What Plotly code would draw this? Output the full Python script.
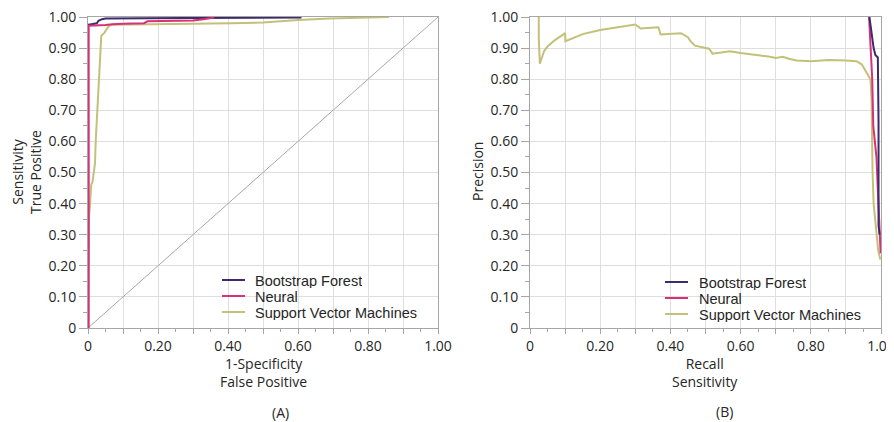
import plotly.graph_objects as go

# ---------------- data ----------------
# ROC curves (panel A)
roc_bf_fpr = [0, 0, 0.01, 0.025, 0.03, 0.04, 0.05, 0.14, 0.3, 0.61]
roc_bf_tpr = [0, 0.975, 0.977, 0.98, 0.988, 0.993, 0.995, 0.996, 0.997, 0.998]

roc_nn_fpr = [0.002, 0.002, 0.05, 0.07, 0.1, 0.16, 0.17, 0.3, 0.33, 0.36]
roc_nn_tpr = [0, 0.972, 0.974, 0.977, 0.978, 0.98, 0.986, 0.989, 0.993, 0.998]

roc_svm_fpr = [0, 0.003, 0.006, 0.009, 0.013, 0.02, 0.022, 0.027, 0.032, 0.038, 0.046,
               0.052, 0.06, 0.07, 0.3, 0.41, 0.5, 0.53, 0.6, 0.69, 0.8, 0.86]
roc_svm_tpr = [0, 0.36, 0.40, 0.46, 0.47, 0.53, 0.60, 0.70, 0.82, 0.94, 0.948,
               0.96, 0.972, 0.975, 0.977, 0.98, 0.982, 0.985, 0.99, 0.995, 0.998, 1.0]

diag_x = [0, 1]
diag_y = [0, 1]

# Precision-recall curves (panel B)
pr_bf_recall = [0.967, 0.975, 0.979, 0.984, 0.991, 0.993, 0.993, 0.996]
pr_bf_prec = [1.0, 0.93, 0.90, 0.878, 0.87, 0.66, 0.33, 0.30]

pr_nn_recall = [0.966, 0.975, 0.978, 0.981, 0.984, 0.987, 0.99, 0.993, 0.996, 0.999]
pr_nn_prec = [1.0, 0.8, 0.65, 0.62, 0.6, 0.55, 0.47, 0.38, 0.3, 0.24]

pr_svm_recall = [0.025, 0.025, 0.028, 0.04, 0.05, 0.07, 0.09, 0.1, 0.101, 0.15, 0.2, 0.25,
                 0.3, 0.315, 0.366, 0.372, 0.43, 0.45, 0.456, 0.47, 0.49, 0.51, 0.52, 0.55,
                 0.57, 0.6, 0.65, 0.68, 0.7, 0.72, 0.74, 0.76, 0.8, 0.85, 0.9, 0.93, 0.945,
                 0.955, 0.965, 0.97, 0.973, 0.974, 0.976, 0.979, 0.984, 0.987, 0.992, 0.998]
pr_svm_prec = [1.0, 0.93, 0.85, 0.89, 0.905, 0.925, 0.94, 0.948, 0.922, 0.945, 0.958, 0.967,
               0.976, 0.963, 0.967, 0.944, 0.948, 0.935, 0.924, 0.908, 0.904, 0.898, 0.882, 0.886,
               0.89, 0.884, 0.878, 0.873, 0.868, 0.872, 0.865, 0.86, 0.858, 0.862, 0.86, 0.858, 0.848,
               0.828, 0.81, 0.8, 0.74, 0.6, 0.5, 0.4, 0.35, 0.3, 0.25, 0.22]

series_names = ["Bootstrap Forest", "Neural", "Support Vector Machines"]
colors = ["#3d2b6b", "#d9307a", "#c4c07a"]

y_tickvals = [i / 10 for i in range(11)]
y_ticktext = ["0"] + ["%.2f" % v for v in y_tickvals[1:]]
x_tickvals = [i / 10 for i in range(11)]
x_ticktext = ["0" if i == 0 else ("%.2f" % (i / 10) if i % 2 == 0 else "") for i in range(11)]

# page has an 8px body margin
OFF = 8
W, H = 894 - OFF, 422 - OFF
FONT = "Open Sans, Noto Sans, DejaVu Sans, sans-serif"
LEG_FONT = "Liberation Sans, Arial, sans-serif"
TXT = "#262626"
FS = 14


def px(x):
    return (x - OFF) / W


def py(y):
    return 1 - (y - OFF) / H


fig = go.Figure()

fig.add_trace(go.Scatter(x=diag_x, y=diag_y, mode="lines", line=dict(color="#a8a8a8", width=1),
                         showlegend=False, hoverinfo="skip", xaxis="x", yaxis="y"))
roc = [(roc_bf_fpr, roc_bf_tpr), (roc_nn_fpr, roc_nn_tpr), (roc_svm_fpr, roc_svm_tpr)]
pr = [(pr_bf_recall, pr_bf_prec), (pr_nn_recall, pr_nn_prec), (pr_svm_recall, pr_svm_prec)]
for i in [2, 0, 1]:
    fig.add_trace(go.Scatter(x=roc[i][0], y=roc[i][1], mode="lines", name=series_names[i],
                             line=dict(color=colors[i], width=2), xaxis="x", yaxis="y",
                             showlegend=False))
for i in [2, 1, 0]:
    fig.add_trace(go.Scatter(x=pr[i][0], y=pr[i][1], mode="lines", name=series_names[i],
                             line=dict(color=colors[i], width=2), xaxis="x2", yaxis="y2",
                             showlegend=False))

axis_common = dict(range=[0, 1], showgrid=True, gridcolor="#dedede", gridwidth=1,
                   showline=True, linecolor="#a6a6a6", linewidth=1, mirror=True,
                   zeroline=False, ticks="outside", tickcolor="#a6a6a6", automargin=False,
                   tickfont=dict(family=FONT, size=FS, color=TXT), tickmode="array",
                   ticklabeloverflow="allow", fixedrange=True)

xa = dict(axis_common, tickvals=x_tickvals, ticktext=x_ticktext, ticklen=5,
          minor=dict(tickmode="linear", tick0=0, dtick=0.05, ticklen=3, ticks="outside",
                     tickcolor="#a6a6a6", showgrid=False))
ya = dict(axis_common, tickvals=y_tickvals, ticktext=y_ticktext, ticklen=8,
          minor=dict(tickmode="linear", tick0=0, dtick=0.05, ticklen=4, ticks="outside",
                     tickcolor="#a6a6a6", showgrid=False))

fig.update_layout(
    width=W, height=H, margin=dict(l=0, r=0, t=0, b=0, pad=0, autoexpand=False),
    paper_bgcolor="white", plot_bgcolor="white",
    font=dict(family=FONT, size=FS, color=TXT),
    xaxis=dict(xa, domain=[px(88), px(438)], anchor="y"),
    yaxis=dict(ya, domain=[py(328), py(17)], anchor="x"),
    xaxis2=dict(xa, domain=[px(530), px(881)], anchor="y2"),
    yaxis2=dict(ya, domain=[py(328), py(17)], anchor="x2"),
    showlegend=False,
)

# legends (line sample + label) for each panel
legend_specs = [(222, 253, [280, 296, 312]), (665, 697, [282, 298, 314])]
for x0, tx, rows in legend_specs:
    for i, yy in enumerate(rows):
        fig.add_shape(type="line", xref="paper", yref="paper", x0=px(x0), x1=px(x0 + 23),
                      y0=py(yy), y1=py(yy), line=dict(color=colors[i], width=2))
        fig.add_annotation(xref="paper", yref="paper", showarrow=False, x=px(tx), y=py(yy),
                           xanchor="left", yanchor="middle", text=series_names[i], height=15,
                           font=dict(family=LEG_FONT, size=14.5, color=TXT))

ann = [
    dict(text="1-Specificity<br>False Positive", x=px(263), y=py(372), yanchor="middle"),
    dict(text="Recall<br>Sensitivity", x=px(705), y=py(372), yanchor="middle"),
    dict(text="Sensitivity<br>True Positive", x=px(26), y=py(172), textangle=-90, yanchor="middle"),
    dict(text="Precision", x=px(477), y=py(172), textangle=-90, yanchor="middle"),
    dict(text="(A)", x=px(280), y=py(412), yanchor="middle"),
    dict(text="(B)", x=px(724), y=py(411), yanchor="middle"),
]
for a in ann:
    fig.add_annotation(xref="paper", yref="paper", showarrow=False, xanchor="center",
                       font=dict(family=FONT, size=FS, color=TXT), **a)

fig.write_html("out.html")
